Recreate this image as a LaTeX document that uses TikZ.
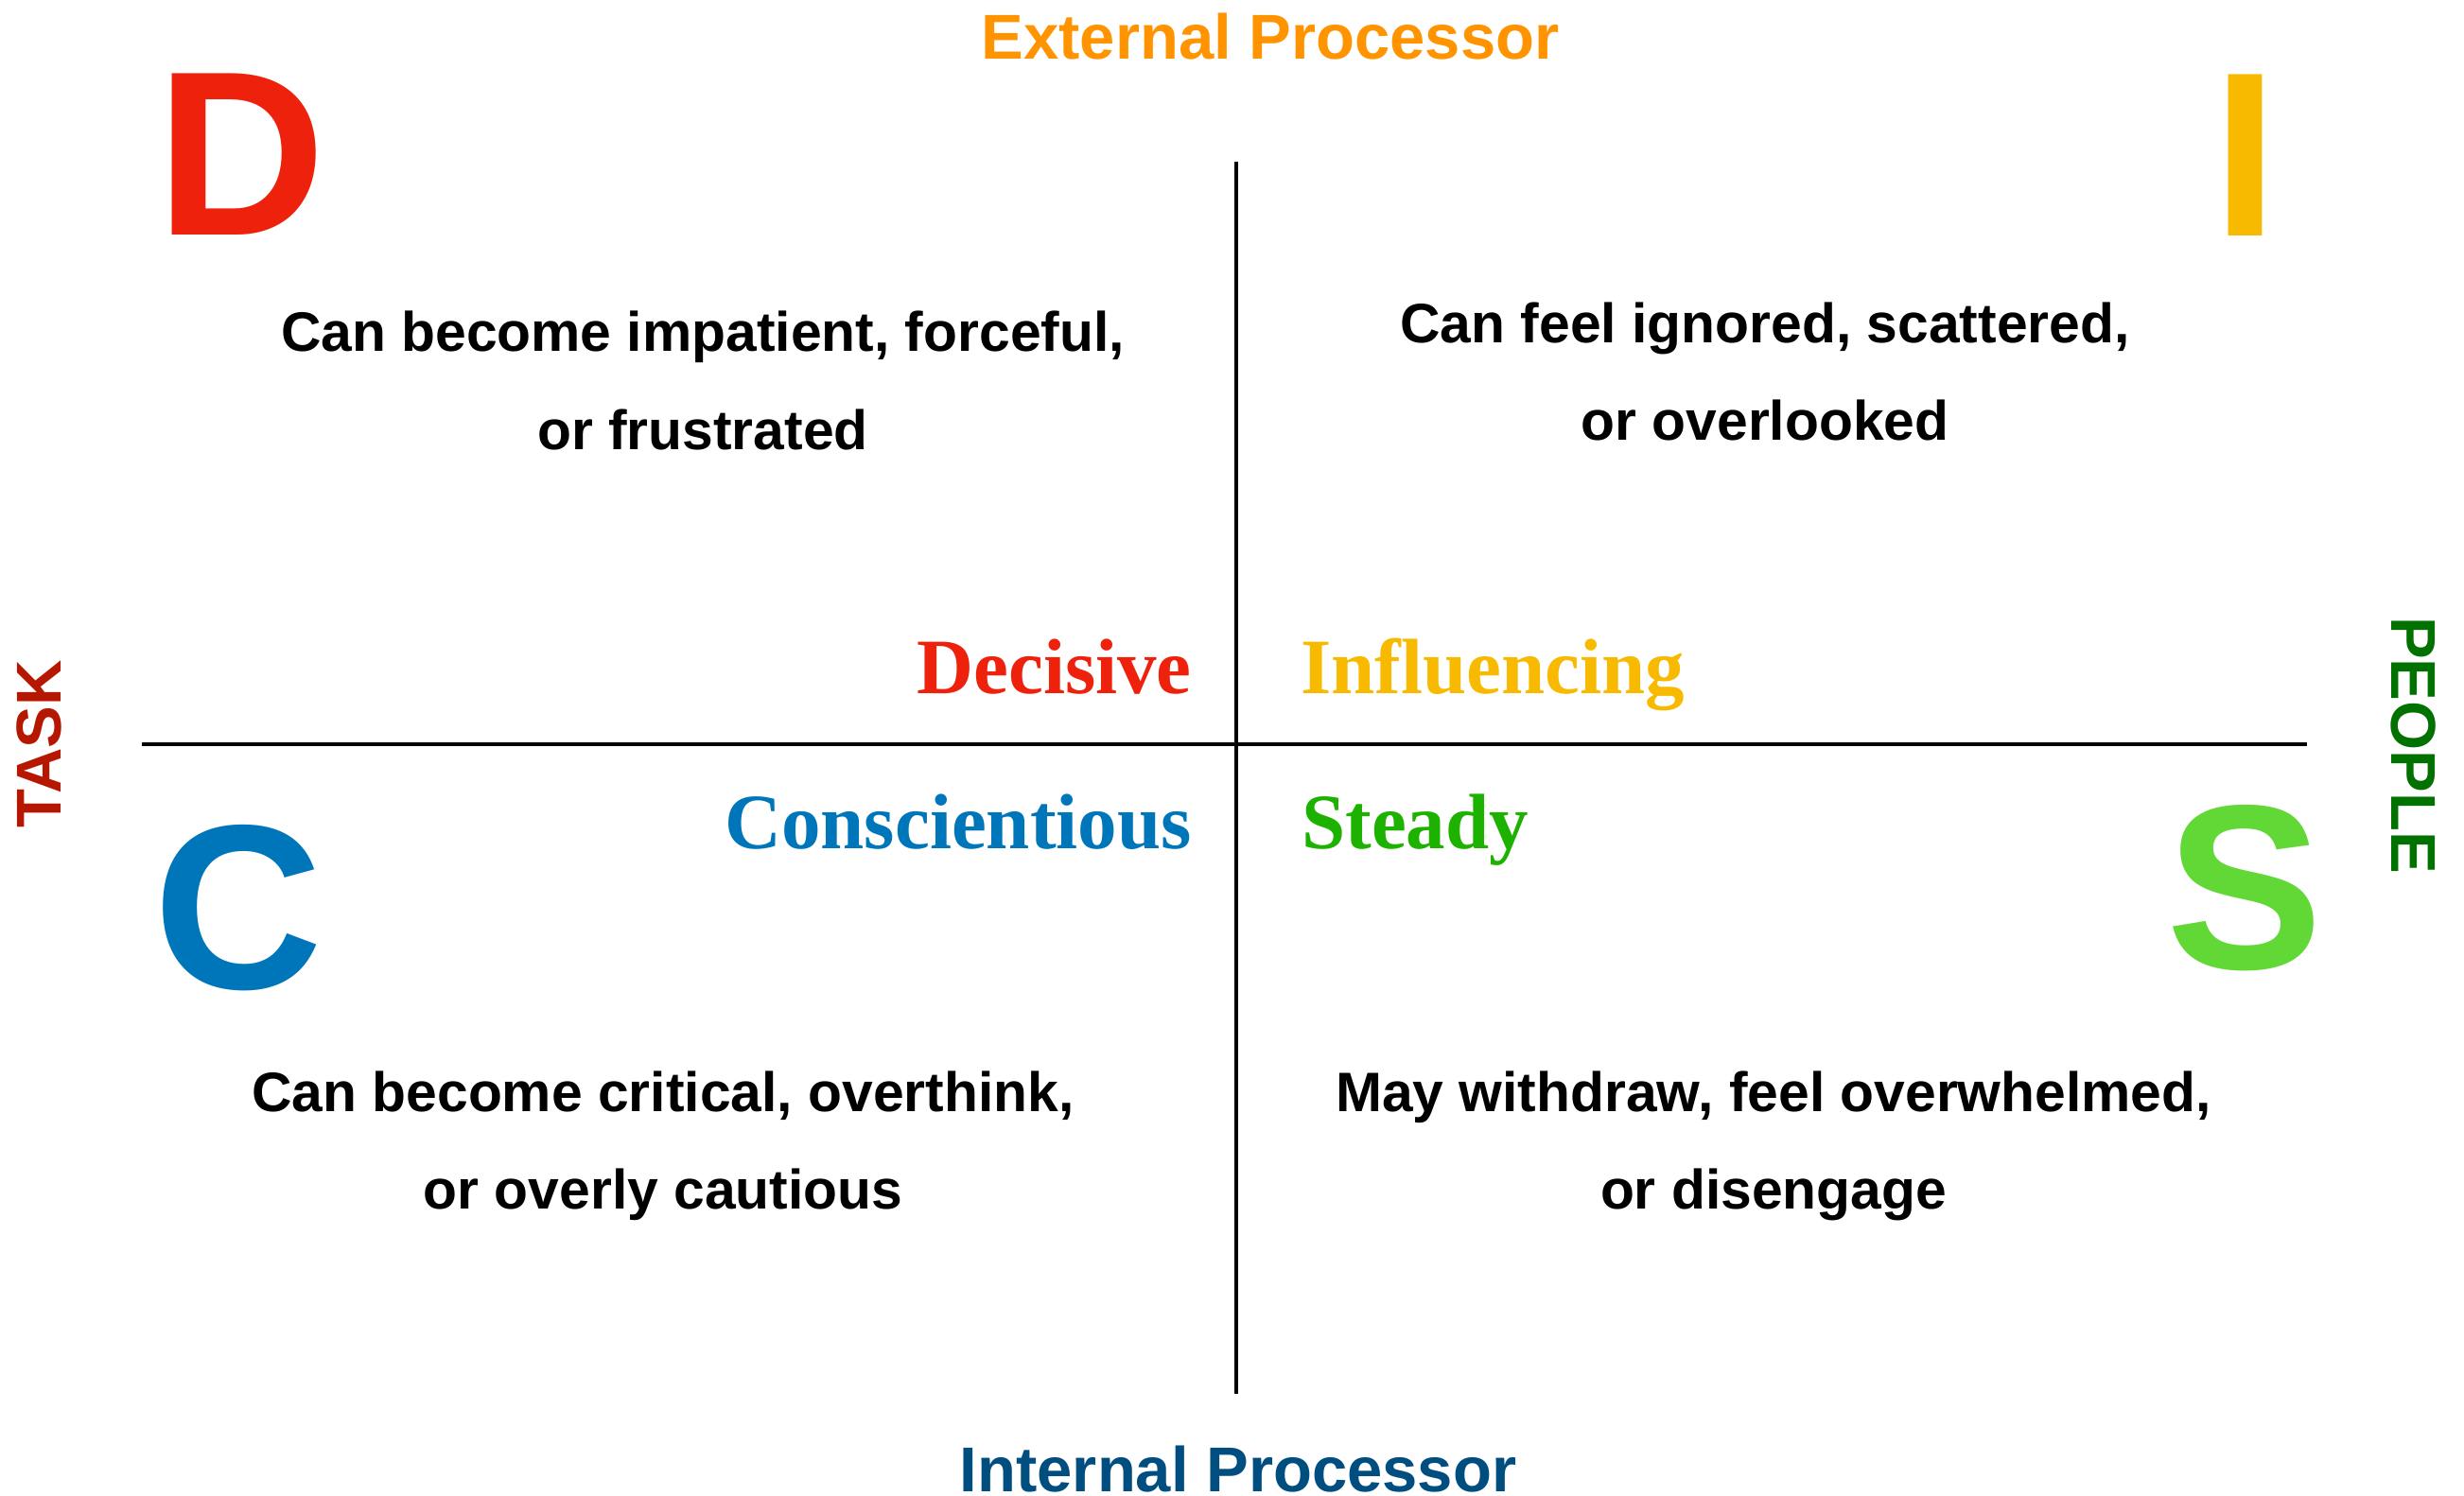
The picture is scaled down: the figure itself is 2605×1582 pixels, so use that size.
\documentclass[tikz,border=0pt]{standalone}
\usepackage{fontspec}
\setmainfont{Liberation Serif}
\setsansfont{Liberation Sans}
\definecolor{dred}{HTML}{EE220C}
\definecolor{iyel}{HTML}{F8BA00}
\definecolor{cblue}{HTML}{0076BA}
\definecolor{sgreen}{HTML}{61D836}
\definecolor{steadygreen}{HTML}{1DB100}
\definecolor{extorange}{HTML}{FF9300}
\definecolor{intblue}{HTML}{004D80}
\definecolor{taskred}{HTML}{B51700}
\definecolor{peoplegreen}{HTML}{017100}
\tikzset{
  bigletter/.style={font=\sffamily\bfseries\fontsize{248}{248}\selectfont, inner sep=0pt, anchor=base},
  bodytext/.style={font=\sffamily\bfseries\fontsize{58.8}{58.8}\selectfont, inner sep=0pt, anchor=base, text=black},
  trait/.style={font=\rmfamily\bfseries\fontsize{83}{83}\selectfont, inner sep=0pt},
  axislabel/.style={font=\sffamily\bfseries\fontsize{67}{67}\selectfont, inner sep=0pt, anchor=base},
  sidelabel/.style={font=\sffamily\bfseries\fontsize{67}{67}\selectfont, inner sep=0pt, anchor=center},
  axisline/.style={line width=4.5pt, black}
}
\begin{document}
\begin{tikzpicture}[x=1pt,y=-1pt]
\useasboundingbox (0,0) rectangle (2605,1582);
% axes
\coordinate (vtop) at (1307,171);
\coordinate (vbot) at (1307,1474);
\coordinate (hleft) at (150,787);
\coordinate (hright) at (2439,787);
\draw[axisline] (vtop) -- (vbot);
\draw[axisline] (hleft) -- (hright);
% axis labels
\node[axislabel, text=extorange] (ext) at (1343,62) {External Processor};
\node[axislabel, text=intblue] (int) at (1309,1577) {Internal Processor};
\node[sidelabel, text=taskred, rotate=90] (task) at (41.5,787) {TASK};
\node[sidelabel, text=peoplegreen, rotate=-90] (people) at (2551.5,788) {PEOPLE};
% big letters
\node[bigletter, text=dred] (D) at (255.5,248) {D};
\node[bigletter, text=iyel] (I) at (2373.5,249) {I};
\node[bigletter, text=cblue] (C) at (252.5,1045) {C};
\node[bigletter, text=sgreen] (S) at (2373,1024) {S};
% traits
\node[trait, text=dred, anchor=base east] (decisive) at (1260,733) {Decisive};
\node[trait, text=iyel, anchor=base west] (influencing) at (1375,733) {Influencing};
\node[trait, text=cblue, anchor=base east] (consc) at (1260,897) {Conscientious};
\node[trait, text=steadygreen, anchor=base west] (steady) at (1376,897) {Steady};
% descriptions
\node[bodytext] (tl1) at (743,371) {Can become impatient, forceful,};
\node[bodytext] (tl2) at (743,475) {or frustrated};
\node[bodytext] (tr1) at (1866,362) {Can feel ignored, scattered,};
\node[bodytext] (tr2) at (1866,465) {or overlooked};
\node[bodytext] (bl1) at (701,1175) {Can become critical, overthink,};
\node[bodytext] (bl2) at (701,1278) {or overly cautious};
\node[bodytext] (br1) at (1875,1175) {May withdraw, feel overwhelmed,};
\node[bodytext] (br2) at (1875,1278) {or disengage};
\end{tikzpicture}
\end{document}
